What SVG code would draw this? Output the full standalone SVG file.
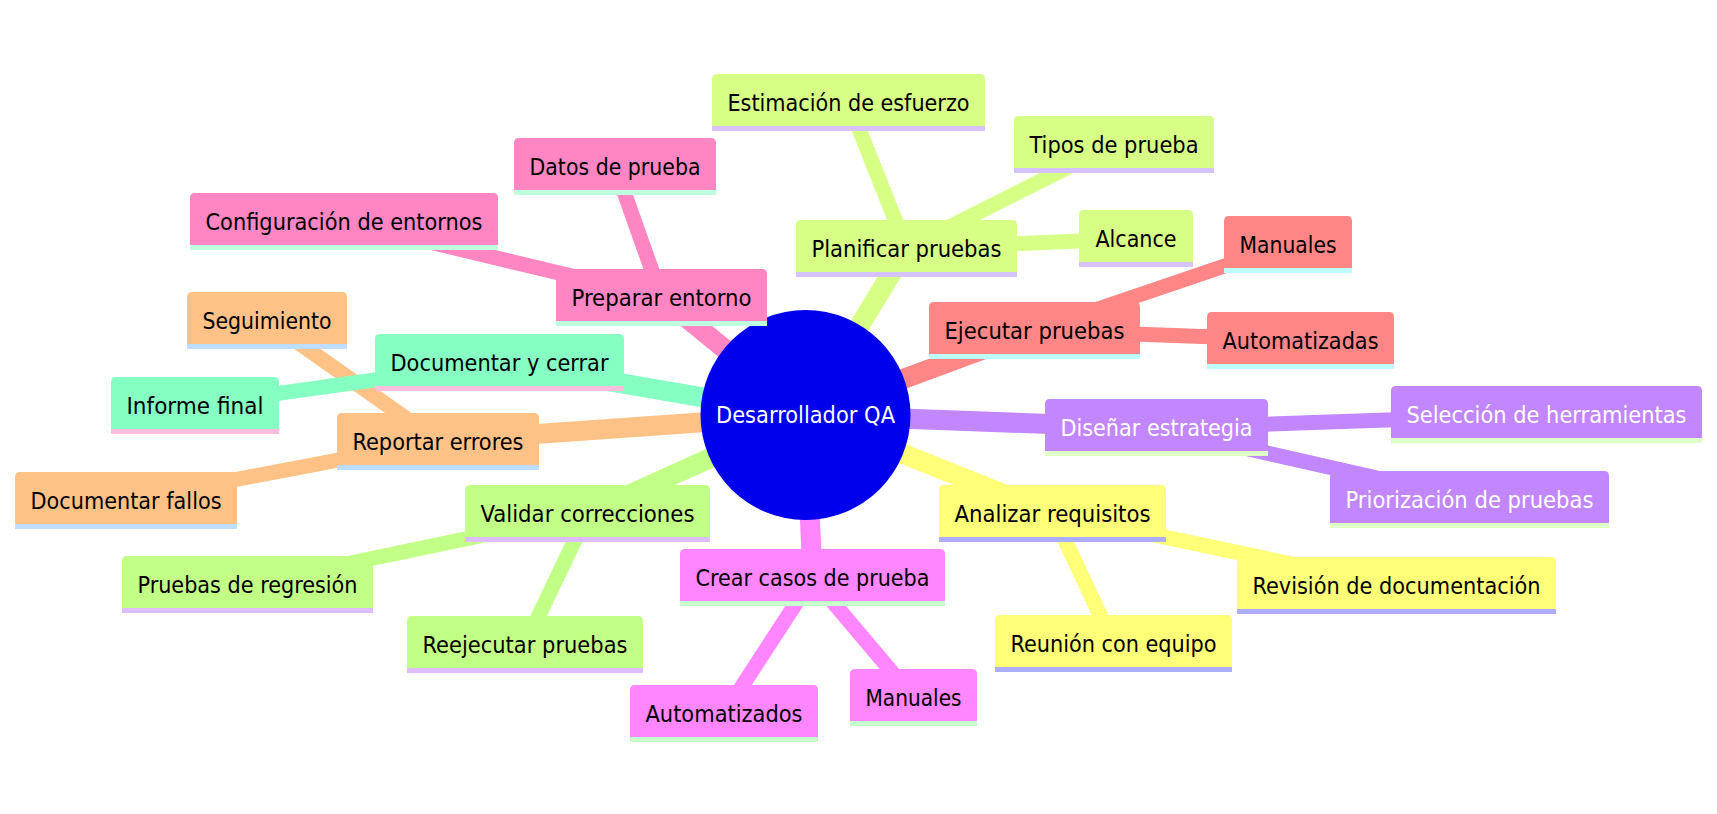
<svg xmlns="http://www.w3.org/2000/svg" width="1717" height="814" viewBox="0 0 1717 814">
<style>
text{font-family:"DejaVu Sans Condensed","DejaVu Sans",sans-serif;font-stretch:condensed;font-size:23px;text-anchor:middle;fill:#000}
.e line{stroke-linecap:butt}
.d1{stroke-width:20}
.d2{stroke-width:15}
.c0{stroke:#ffff78}.c1{stroke:#d7ff86}.c2{stroke:#c286ff}.c3{stroke:#ff86ff}.c4{stroke:#ff86c2}.c5{stroke:#ff8686}.c6{stroke:#ffc286}.c7{stroke:#c2ff86}.c8{stroke:#86ffc2}
.s0 .bg{fill:#ffff78}.s0 .ul{fill:#adadff}
.s1 .bg{fill:#d7ff86}.s1 .ul{fill:#d5c2ff}
.s2 .bg{fill:#c286ff}.s2 .ul{fill:#deffc6}.s2 text{fill:#fff}
.s3 .bg{fill:#ff86ff}.s3 .ul{fill:#c4ffcc}
.s4 .bg{fill:#ff86c2}.s4 .ul{fill:#bdffde}
.s5 .bg{fill:#ff8686}.s5 .ul{fill:#bdffff}
.s6 .bg{fill:#ffc286}.s6 .ul{fill:#bddeff}
.s7 .bg{fill:#c2ff86}.s7 .ul{fill:#debdff}
.s8 .bg{fill:#86ffc2}.s8 .ul{fill:#ffbdde}
</style>
<rect width="1717" height="814" fill="#fff"/>
<g id="connectors" class="e">
<line class="d1 c0" x1="805.5" y1="415" x2="1052.5" y2="513.5"/>
<line class="d2 c0" x1="1052.5" y1="513.5" x2="1396.5" y2="586"/>
<line class="d2 c0" x1="1052.5" y1="513.5" x2="1113.5" y2="643.5"/>
<line class="d1 c1" x1="805.5" y1="415" x2="906.5" y2="248.5"/>
<line class="d2 c1" x1="906.5" y1="248.5" x2="848.5" y2="102.5"/>
<line class="d2 c1" x1="906.5" y1="248.5" x2="1114" y2="144"/>
<line class="d2 c1" x1="906.5" y1="248.5" x2="1136" y2="238.5"/>
<line class="d1 c2" x1="805.5" y1="415" x2="1156.5" y2="428"/>
<line class="d2 c2" x1="1156.5" y1="428" x2="1546.5" y2="414.5"/>
<line class="d2 c2" x1="1156.5" y1="428" x2="1469.5" y2="499"/>
<line class="d1 c3" x1="805.5" y1="415" x2="812.5" y2="578"/>
<line class="d2 c3" x1="812.5" y1="578" x2="724" y2="714"/>
<line class="d2 c3" x1="812.5" y1="578" x2="913.5" y2="697.5"/>
<line class="d1 c4" x1="805.5" y1="415" x2="661.5" y2="297.5"/>
<line class="d2 c4" x1="661.5" y1="297.5" x2="615" y2="166.5"/>
<line class="d2 c4" x1="661.5" y1="297.5" x2="344" y2="221.5"/>
<line class="d1 c5" x1="805.5" y1="415" x2="1034.5" y2="330.5"/>
<line class="d2 c5" x1="1034.5" y1="330.5" x2="1288" y2="244.5"/>
<line class="d2 c5" x1="1034.5" y1="330.5" x2="1300.5" y2="340"/>
<line class="d1 c6" x1="805.5" y1="415" x2="438" y2="441"/>
<line class="d2 c6" x1="438" y1="441" x2="267" y2="320.5"/>
<line class="d2 c6" x1="438" y1="441" x2="126" y2="500.5"/>
<line class="d1 c7" x1="805.5" y1="415" x2="587.5" y2="513.5"/>
<line class="d2 c7" x1="587.5" y1="513.5" x2="247.5" y2="584.5"/>
<line class="d2 c7" x1="587.5" y1="513.5" x2="525" y2="644.5"/>
<line class="d1 c8" x1="805.5" y1="415" x2="499.5" y2="362.5"/>
<line class="d2 c8" x1="499.5" y1="362.5" x2="195" y2="405"/>
</g>
<g id="root">
<circle cx="805.5" cy="415" r="105" fill="#0000ec"/>
<text x="805.5" y="423" fill="#fff" style="fill:#fff" textLength="179" lengthAdjust="spacingAndGlyphs">Desarrollador QA</text>
</g>
<g id="analizar-requisitos" class="s0"><path class="bg" d="M939,537V490Q939,485 944,485H1161Q1166,485 1166,490V537Z"/><rect class="ul" x="939" y="537" width="227" height="5"/><text x="1052.5" y="522" textLength="196" lengthAdjust="spacingAndGlyphs">Analizar requisitos</text></g>
<g id="revision-documentacion" class="s0"><path class="bg" d="M1237,609V562Q1237,557 1242,557H1551Q1556,557 1556,562V609Z"/><rect class="ul" x="1237" y="609" width="319" height="5"/><text x="1396.5" y="594" textLength="288" lengthAdjust="spacingAndGlyphs">Revisión de documentación</text></g>
<g id="reunion-equipo" class="s0"><path class="bg" d="M995,667V620Q995,615 1000,615H1227Q1232,615 1232,620V667Z"/><rect class="ul" x="995" y="667" width="237" height="5"/><text x="1113.5" y="652" textLength="206" lengthAdjust="spacingAndGlyphs">Reunión con equipo</text></g>
<g id="planificar-pruebas" class="s1"><path class="bg" d="M796,272V225Q796,220 801,220H1012Q1017,220 1017,225V272Z"/><rect class="ul" x="796" y="272" width="221" height="5"/><text x="906.5" y="257" textLength="190" lengthAdjust="spacingAndGlyphs">Planificar pruebas</text></g>
<g id="estimacion-esfuerzo" class="s1"><path class="bg" d="M712,126V79Q712,74 717,74H980Q985,74 985,79V126Z"/><rect class="ul" x="712" y="126" width="273" height="5"/><text x="848.5" y="111" textLength="242" lengthAdjust="spacingAndGlyphs">Estimación de esfuerzo</text></g>
<g id="tipos-prueba" class="s1"><path class="bg" d="M1014,168V121Q1014,116 1019,116H1209Q1214,116 1214,121V168Z"/><rect class="ul" x="1014" y="168" width="200" height="5"/><text x="1114" y="153" textLength="169" lengthAdjust="spacingAndGlyphs">Tipos de prueba</text></g>
<g id="alcance" class="s1"><path class="bg" d="M1079,262V215Q1079,210 1084,210H1188Q1193,210 1193,215V262Z"/><rect class="ul" x="1079" y="262" width="114" height="5"/><text x="1136" y="247" textLength="81" lengthAdjust="spacingAndGlyphs">Alcance</text></g>
<g id="disenar-estrategia" class="s2"><path class="bg" d="M1045,451V404Q1045,399 1050,399H1263Q1268,399 1268,404V451Z"/><rect class="ul" x="1045" y="451" width="223" height="5"/><text x="1156.5" y="436" textLength="192" lengthAdjust="spacingAndGlyphs">Diseñar estrategia</text></g>
<g id="seleccion-herramientas" class="s2"><path class="bg" d="M1391,438V391Q1391,386 1396,386H1697Q1702,386 1702,391V438Z"/><rect class="ul" x="1391" y="438" width="311" height="5"/><text x="1546.5" y="423" textLength="280" lengthAdjust="spacingAndGlyphs">Selección de herramientas</text></g>
<g id="priorizacion-pruebas" class="s2"><path class="bg" d="M1330,523V476Q1330,471 1335,471H1604Q1609,471 1609,476V523Z"/><rect class="ul" x="1330" y="523" width="279" height="5"/><text x="1469.5" y="508" textLength="248" lengthAdjust="spacingAndGlyphs">Priorización de pruebas</text></g>
<g id="crear-casos" class="s3"><path class="bg" d="M680,601V554Q680,549 685,549H940Q945,549 945,554V601Z"/><rect class="ul" x="680" y="601" width="265" height="5"/><text x="812.5" y="586" textLength="234" lengthAdjust="spacingAndGlyphs">Crear casos de prueba</text></g>
<g id="automatizados" class="s3"><path class="bg" d="M630,737V690Q630,685 635,685H813Q818,685 818,690V737Z"/><rect class="ul" x="630" y="737" width="188" height="5"/><text x="724" y="722" textLength="157" lengthAdjust="spacingAndGlyphs">Automatizados</text></g>
<g id="manuales-casos" class="s3"><path class="bg" d="M850,721V674Q850,669 855,669H972Q977,669 977,674V721Z"/><rect class="ul" x="850" y="721" width="127" height="5"/><text x="913.5" y="706" textLength="96" lengthAdjust="spacingAndGlyphs">Manuales</text></g>
<g id="preparar-entorno" class="s4"><path class="bg" d="M556,321V274Q556,269 561,269H762Q767,269 767,274V321Z"/><rect class="ul" x="556" y="321" width="211" height="5"/><text x="661.5" y="306" textLength="180" lengthAdjust="spacingAndGlyphs">Preparar entorno</text></g>
<g id="datos-prueba" class="s4"><path class="bg" d="M514,190V143Q514,138 519,138H711Q716,138 716,143V190Z"/><rect class="ul" x="514" y="190" width="202" height="5"/><text x="615" y="175" textLength="171" lengthAdjust="spacingAndGlyphs">Datos de prueba</text></g>
<g id="configuracion-entornos" class="s4"><path class="bg" d="M190,245V198Q190,193 195,193H493Q498,193 498,198V245Z"/><rect class="ul" x="190" y="245" width="308" height="5"/><text x="344" y="230" textLength="277" lengthAdjust="spacingAndGlyphs">Configuración de entornos</text></g>
<g id="ejecutar-pruebas" class="s5"><path class="bg" d="M929,354V307Q929,302 934,302H1135Q1140,302 1140,307V354Z"/><rect class="ul" x="929" y="354" width="211" height="5"/><text x="1034.5" y="339" textLength="180" lengthAdjust="spacingAndGlyphs">Ejecutar pruebas</text></g>
<g id="manuales-ejecutar" class="s5"><path class="bg" d="M1224,268V221Q1224,216 1229,216H1347Q1352,216 1352,221V268Z"/><rect class="ul" x="1224" y="268" width="128" height="5"/><text x="1288" y="253" textLength="97" lengthAdjust="spacingAndGlyphs">Manuales</text></g>
<g id="automatizadas" class="s5"><path class="bg" d="M1207,364V317Q1207,312 1212,312H1389Q1394,312 1394,317V364Z"/><rect class="ul" x="1207" y="364" width="187" height="5"/><text x="1300.5" y="349" textLength="156" lengthAdjust="spacingAndGlyphs">Automatizadas</text></g>
<g id="reportar-errores" class="s6"><path class="bg" d="M337,465V418Q337,413 342,413H534Q539,413 539,418V465Z"/><rect class="ul" x="337" y="465" width="202" height="5"/><text x="438" y="450" textLength="171" lengthAdjust="spacingAndGlyphs">Reportar errores</text></g>
<g id="seguimiento" class="s6"><path class="bg" d="M187,344V297Q187,292 192,292H342Q347,292 347,297V344Z"/><rect class="ul" x="187" y="344" width="160" height="5"/><text x="267" y="329" textLength="129" lengthAdjust="spacingAndGlyphs">Seguimiento</text></g>
<g id="documentar-fallos" class="s6"><path class="bg" d="M15,524V477Q15,472 20,472H232Q237,472 237,477V524Z"/><rect class="ul" x="15" y="524" width="222" height="5"/><text x="126" y="509" textLength="191" lengthAdjust="spacingAndGlyphs">Documentar fallos</text></g>
<g id="validar-correcciones" class="s7"><path class="bg" d="M465,537V490Q465,485 470,485H705Q710,485 710,490V537Z"/><rect class="ul" x="465" y="537" width="245" height="5"/><text x="587.5" y="522" textLength="214" lengthAdjust="spacingAndGlyphs">Validar correcciones</text></g>
<g id="pruebas-regresion" class="s7"><path class="bg" d="M122,608V561Q122,556 127,556H368Q373,556 373,561V608Z"/><rect class="ul" x="122" y="608" width="251" height="5"/><text x="247.5" y="593" textLength="220" lengthAdjust="spacingAndGlyphs">Pruebas de regresión</text></g>
<g id="reejecutar-pruebas" class="s7"><path class="bg" d="M407,668V621Q407,616 412,616H638Q643,616 643,621V668Z"/><rect class="ul" x="407" y="668" width="236" height="5"/><text x="525" y="653" textLength="205" lengthAdjust="spacingAndGlyphs">Reejecutar pruebas</text></g>
<g id="documentar-cerrar" class="s8"><path class="bg" d="M375,386V339Q375,334 380,334H619Q624,334 624,339V386Z"/><rect class="ul" x="375" y="386" width="249" height="5"/><text x="499.5" y="371" textLength="218" lengthAdjust="spacingAndGlyphs">Documentar y cerrar</text></g>
<g id="informe-final" class="s8"><path class="bg" d="M111,429V382Q111,377 116,377H274Q279,377 279,382V429Z"/><rect class="ul" x="111" y="429" width="168" height="5"/><text x="195" y="414" textLength="137" lengthAdjust="spacingAndGlyphs">Informe final</text></g>
</svg>
